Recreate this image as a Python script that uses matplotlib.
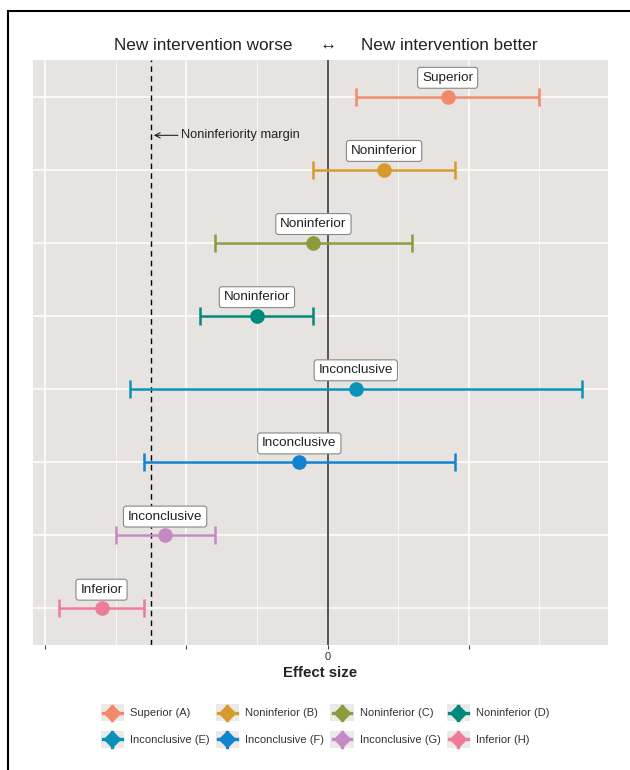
import matplotlib
matplotlib.use('Agg')
import matplotlib.pyplot as plt
from matplotlib.lines import Line2D
from matplotlib.patches import Rectangle
from matplotlib.legend_handler import HandlerBase
from matplotlib.ticker import FixedLocator

plt.rcParams['font.family'] = ['Liberation Sans', 'DejaVu Sans']

# data
letters = ['A', 'B', 'C', 'D', 'E', 'F', 'G', 'H']
verdicts = ['Superior', 'Noninferior', 'Noninferior', 'Noninferior',
            'Inconclusive', 'Inconclusive', 'Inconclusive', 'Inferior']
estimate = [0.85, 0.40, -0.10, -0.50, 0.20, -0.20, -1.15, -1.60]
lower = [0.20, -0.10, -0.80, -0.90, -1.40, -1.30, -1.50, -1.90]
upper = [1.50, 0.90, 0.60, -0.10, 1.80, 0.90, -0.80, -1.30]
colors = ['#F08A6A', '#D69A2D', '#8C9B3E', '#00897A',
          '#0A93B8', '#1283CF', '#C58AC5', '#EE7C98']
margin = -1.25
x_breaks = [-2, -1, 0, 1]
x_labels = ['', '', '0', '']
x_minor = [-1.5, -0.5, 0.5, 1.5]


class PointRangeKey(HandlerBase):
    # grey square with a point and short cross, like a ggplot pointrange key
    def create_artists(self, legend, orig_handle, xdescent, ydescent,
                       width, height, fontsize, trans):
        c = orig_handle.get_color()
        x0, y0 = -xdescent, -ydescent
        cx, cy = x0 + width / 2, y0 + height / 2
        bg = Rectangle((x0, y0), width, height, fc='#EBEAE8', ec='none', transform=trans)
        h = Line2D([cx - width * 0.40, cx + width * 0.40], [cy, cy], color=c, lw=2.4,
                   transform=trans)
        v = Line2D([cx, cx], [cy - height * 0.42, cy + height * 0.42], color=c, lw=2.4,
                   transform=trans)
        dot = Line2D([cx], [cy], marker='D', ms=8.5, color=c, ls='none', transform=trans)
        return [bg, h, v, dot]


fig = plt.figure(figsize=(6.3, 7.7), dpi=100)
ax = fig.add_axes([33/630, 125/770, 575/630, 585/770])
ax.set_facecolor('#E6E3E1')

n = len(letters)
rows = [n - i for i in range(n)]

ax.set_xlim(-2.085, 1.985)
ax.set_ylim(0.5, 8.5)
ax.xaxis.set_major_locator(FixedLocator(x_breaks))
ax.xaxis.set_minor_locator(FixedLocator(x_minor))
ax.set_xticklabels(x_labels)
ax.set_yticks(rows)
ax.set_yticklabels([])
ax.tick_params(axis='y', length=0)
ax.tick_params(axis='x', which='major', length=3, width=0.8, color='#444444',
               labelsize=8, pad=2, labelcolor='#333333')
ax.tick_params(axis='x', which='minor', length=0)
ax.grid(True, which='major', color='white', lw=1.1)
ax.grid(True, which='minor', axis='x', color='white', lw=0.5)
ax.set_axisbelow(True)
for s in ax.spines.values():
    s.set_visible(False)

ax.axvline(0, color='#555555', lw=1.4, zorder=2)
ax.axvline(margin, color='black', lw=1.0, ls=(0, (4, 3)), zorder=2)

for i in range(n):
    y = rows[i]
    ax.errorbar(estimate[i], y, xerr=[[estimate[i] - lower[i]], [upper[i] - estimate[i]]],
                fmt='o', color=colors[i], ms=9.5, elinewidth=1.8, capsize=6.5,
                capthick=1.8, zorder=3)
    ax.annotate(verdicts[i], xy=(estimate[i], y), xytext=(0, 13.5),
                textcoords='offset points', ha='center', va='center',
                fontsize=9.7, color='#222222', zorder=4,
                bbox=dict(boxstyle='round,pad=0.33,rounding_size=0.2', fc='white',
                          ec='#888888', lw=0.8))

ax.annotate('Noninferiority margin', xy=(margin + 0.02, 7.47), xytext=(margin + 0.21, 7.47),
            ha='left', va='center', fontsize=9.3, color='#222222',
            arrowprops=dict(arrowstyle='->', color='#222222', lw=0.8,
                            shrinkA=0, shrinkB=0))

# header above the panel
hdr = dict(xycoords=('data', 'axes fraction'), textcoords='offset points',
           va='center', fontsize=12.3, color='#222222')
ax.annotate('New intervention worse', xy=(-0.245, 1), xytext=(0, 10.8), ha='right', **hdr)
ax.annotate('\u2194', xy=(0, 1), xytext=(0, 10.8), ha='center', **hdr)
ax.annotate('New intervention better', xy=(0.24, 1), xytext=(0, 10.8), ha='left', **hdr)

ax.set_xlabel('Effect size', fontsize=10.8, fontweight='bold', color='#222222', labelpad=3)

# legend, filled row by row
order = [0, 4, 1, 5, 2, 6, 3, 7]
handles = [Line2D([], [], color=colors[i]) for i in order]
names = [f'{verdicts[i]} ({letters[i]})' for i in order]
fig.legend(handles, names, handler_map={Line2D: PointRangeKey()},
           loc='center', bbox_to_anchor=(0.516, 0.057), ncol=4, frameon=False,
           fontsize=8, handlelength=2.1, handleheight=2.0, handletextpad=0.55,
           columnspacing=0.55, labelspacing=0.85, labelcolor='#333333')

# outer frame
fig.add_artist(Rectangle((8/630, -0.1), 1.2, 1.1 - 11/770, transform=fig.transFigure,
                         fill=False, ec='black', lw=1.5))

fig.savefig('out.png', dpi=100)
